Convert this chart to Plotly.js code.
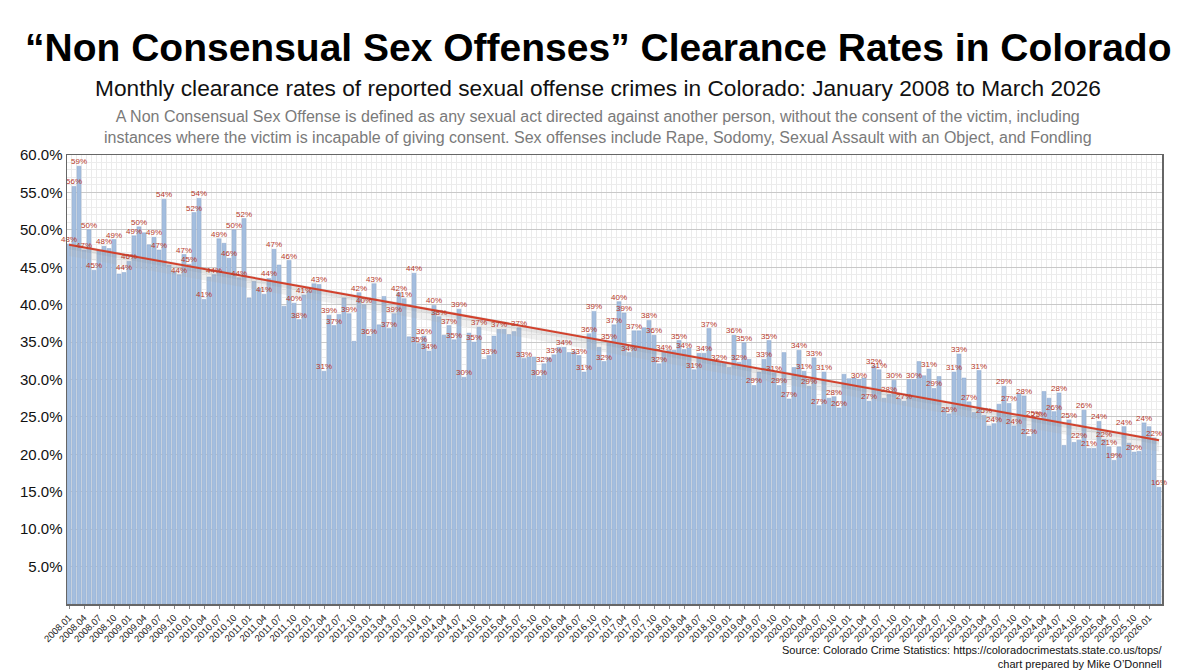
<!DOCTYPE html>
<html>
<head>
<meta charset="utf-8">
<script src="https://cdn.plot.ly/plotly-3.0.1.min.js"></script>
<style>
  html, body { margin: 0; padding: 0; background: #fff; }
  #chart { width: 1200px; height: 671px; }
</style>
</head>
<body>
<div id="chart"></div>
<script>
// Monthly clearance rate (%) of non consensual sex offenses, Jan 2008 .. Mar 2026
const rates = [
  48.1, 55.8, 58.5, 47.3, 50.0, 44.6, 47.2, 47.8, 47.5, 48.7, 44.1, 44.3,   // 2008
  45.8, 49.2, 50.4, 49.6, 48.0, 49.0, 47.3, 54.1, 45.3, 44.4, 44.0, 46.7,   // 2009
  45.4, 52.3, 54.2, 40.7, 43.7, 44.0, 48.8, 48.2, 46.2, 50.0, 43.6, 51.5,   // 2010
  40.9, 43.1, 42.2, 41.4, 43.5, 47.4, 45.3, 39.8, 45.9, 40.2, 38.0, 41.3,   // 2011
  41.8, 42.8, 42.7, 31.1, 38.6, 37.2, 38.7, 40.9, 38.8, 35.1, 41.6, 40.0,   // 2012
  35.8, 42.8, 37.3, 41.1, 36.8, 38.8, 41.6, 40.8, 35.7, 44.2, 34.8, 35.8,   // 2013
  33.8, 39.9, 38.4, 35.9, 37.2, 35.3, 39.4, 30.3, 36.2, 35.0, 37.0, 32.7,   // 2014
  33.2, 35.8, 36.7, 36.7, 36.0, 36.4, 36.9, 32.8, 33.0, 33.0, 30.4, 32.1,   // 2015
  32.9, 33.3, 34.3, 34.3, 33.6, 33.7, 33.2, 31.0, 36.1, 39.1, 34.3, 32.4,   // 2016
  35.1, 37.3, 40.4, 38.9, 33.6, 36.5, 36.5, 36.9, 37.9, 35.9, 32.1, 33.7,   // 2017
  33.9, 33.9, 35.2, 34.0, 34.2, 31.3, 33.5, 33.5, 36.8, 32.5, 32.3, 32.3,   // 2018
  31.6, 35.9, 32.3, 34.9, 32.7, 29.2, 31.0, 32.7, 35.2, 30.9, 29.2, 33.6,   // 2019
  27.4, 31.6, 33.9, 31.1, 29.1, 32.9, 26.5, 31.0, 27.5, 27.7, 26.2, 30.7,   // 2020
  30.1, 30.2, 30.0, 30.2, 27.1, 31.8, 31.3, 27.5, 28.0, 29.9, 27.4, 27.1,   // 2021
  30.0, 30.0, 32.4, 30.5, 31.4, 28.8, 30.4, 26.1, 25.4, 31.0, 33.4, 30.2,   // 2022
  27.0, 25.6, 31.2, 25.2, 23.8, 24.1, 26.7, 29.1, 26.8, 23.8, 28.1, 27.8,   // 2023
  22.4, 24.8, 24.7, 28.4, 27.5, 25.7, 28.2, 21.2, 24.6, 21.6, 21.9, 25.9,   // 2024
  20.8, 20.8, 24.4, 22.0, 21.0, 19.2, 21.0, 23.7, 21.5, 20.3, 20.4, 24.2,   // 2025
  23.7, 22.2, 15.6                                                          // 2026
];

// bars that carry a value label in the original
const labelled = [0,1,2,3,4,5,7,9,11,12,13,14,17,18,19,22,23,24,25,26,27,29,30,32,33,34,35,
  39,40,41,44,45,46,47,50,51,52,53,56,58,59,60,61,64,65,66,67,69,70,71,72,73,74,76,77,78,79,
  81,82,84,86,90,91,94,95,97,99,102,103,104,105,107,108,109,110,111,112,113,116,117,118,119,
  122,123,125,127,128,130,133,134,135,137,139,140,141,142,144,146,147,148,149,150,151,153,154,
  158,160,161,162,164,165,167,169,172,173,176,177,178,180,182,183,185,187,188,189,191,192,193,
  194,197,198,200,202,203,204,206,207,208,209,211,213,215,217,218];

const startYear = 2008;
const months = rates.map((_, i) =>
  (startYear + Math.floor(i / 12)) + '.' + String(i % 12 + 1).padStart(2, '0'));
const idx = rates.map((_, i) => i);

const tickIdx = idx.filter(i => i % 3 === 0);
const tickText = tickIdx.map(i => months[i]);
const yTicks = [5, 10, 15, 20, 25, 30, 35, 40, 45, 50, 55, 60];

// least squares trend
const n = rates.length;
const mx = idx.reduce((a, b) => a + b, 0) / n;
const my = rates.reduce((a, b) => a + b, 0) / n;
let sxy = 0, sxx = 0;
idx.forEach(i => { sxy += (i - mx) * (rates[i] - my); sxx += (i - mx) * (i - mx); });
const slope = sxy / sxx;
const icpt = my - slope * mx;
const trendX = [0, n - 1];
const trendY = trendX.map(x => icpt + slope * x);

const FONT = 'Liberation Sans, Arial, Helvetica, sans-serif';

const traces = [
  {
    type: 'bar', x: idx, y: rates,
    marker: { color: '#a4bedf', line: { color: '#8ea9cf', width: 0.5 } },
    hoverinfo: 'x+y'
  },
  // soft grey shadow under the trend line
  {
    type: 'scatter', mode: 'lines', x: trendX, y: trendY.map(v => v - 1.5),
    line: { width: 0 }, hoverinfo: 'skip'
  },
  {
    type: 'scatter', mode: 'lines', x: trendX, y: trendY.map(v => v - 0.6),
    line: { width: 0 }, fill: 'tonexty', fillcolor: 'rgba(170,170,170,0.18)',
    hoverinfo: 'skip'
  },
  {
    type: 'scatter', mode: 'lines', x: trendX, y: trendY.map(v => v + 0.2),
    line: { width: 0 }, fill: 'tonexty', fillcolor: 'rgba(150,150,150,0.28)',
    hoverinfo: 'skip'
  },
  {
    type: 'scatter', mode: 'lines', x: trendX, y: trendY,
    line: { color: '#d2412c', width: 2 }, hoverinfo: 'skip'
  },
  {
    type: 'scatter', mode: 'text',
    x: labelled, y: labelled.map(i => rates[i]),
    text: labelled.map(i => Math.round(rates[i]) + '%'),
    textposition: 'top center',
    textfont: { family: FONT, size: 8, color: '#b8392a' },
    cliponaxis: false, hoverinfo: 'skip'
  }
];

const layout = {
  width: 1200, height: 671,
  margin: { l: 67, r: 38, t: 155, b: 67 },
  paper_bgcolor: '#fff', plot_bgcolor: '#fff',
  showlegend: false,
  bargap: 0.22,
  font: { family: FONT, color: '#111' },
  xaxis: {
    range: [-0.4, 218.6],
    tickmode: 'array', tickvals: tickIdx, ticktext: tickText,
    tickangle: -45, tickfont: { size: 9.5, color: '#222' },
    ticks: 'outside', ticklen: 3, tickcolor: '#888',
    showgrid: false, zeroline: false,
    minor: { tickmode: 'linear', tick0: 0.5, dtick: 1, showgrid: true, gridcolor: '#ebebeb', ticks: '' },
    showline: true, linecolor: '#666', linewidth: 1.5, mirror: true
  },
  yaxis: {
    range: [0, 60],
    tickmode: 'array', tickvals: yTicks,
    ticktext: yTicks.map(v => v.toFixed(1) + '%'),
    tickfont: { size: 15, color: '#111' },
    ticks: '', showgrid: true, gridcolor: '#c9c9c9', gridwidth: 1,
    minor: { tickmode: 'linear', tick0: 0, dtick: 1, showgrid: true, gridcolor: '#ececec' },
    zeroline: false,
    showline: true, linecolor: '#666', linewidth: 1.5, mirror: true
  },
  annotations: [
    {
      xref: 'paper', yref: 'paper', x: 0.485, y: 1.2405, xanchor: 'center', yanchor: 'middle',
      showarrow: false,
      text: '<b>\u201cNon Consensual Sex Offenses\u201d Clearance Rates in Colorado</b>',
      font: { family: FONT, size: 39, color: '#000' }
    },
    {
      xref: 'paper', yref: 'paper', x: 0.485, y: 1.149, xanchor: 'center', yanchor: 'middle',
      showarrow: false,
      text: 'Monthly clearance rates of reported sexual offense crimes in Colorado: January 2008 to March 2026',
      font: { family: FONT, size: 22.7, color: '#111' }
    },
    {
      xref: 'paper', yref: 'paper', x: 0.485, y: 1.0624, xanchor: 'center', yanchor: 'middle',
      showarrow: false, align: 'center',
      text: 'A Non Consensual Sex Offense is defined as any sexual act directed against another person, without the consent of the victim, including<br>' +
            'instances where the victim is incapable of giving consent. Sex offenses include Rape, Sodomy, Sexual Assault with an Object, and Fondling',
      font: { family: FONT, size: 16, color: '#7a7a7a' }
    },
    {
      xref: 'paper', yref: 'paper', x: 1.003, y: -0.118, xanchor: 'right', yanchor: 'middle',
      showarrow: false, align: 'right',
      text: 'Source: Colorado Crime Statistics: https://coloradocrimestats.state.co.us/tops/<br>chart prepared by Mike O\u2019Donnell',
      font: { family: FONT, size: 11, color: '#111' }
    }
  ]
};

Plotly.newPlot('chart', traces, layout, { displayModeBar: false, staticPlot: true });
</script>
</body>
</html>
